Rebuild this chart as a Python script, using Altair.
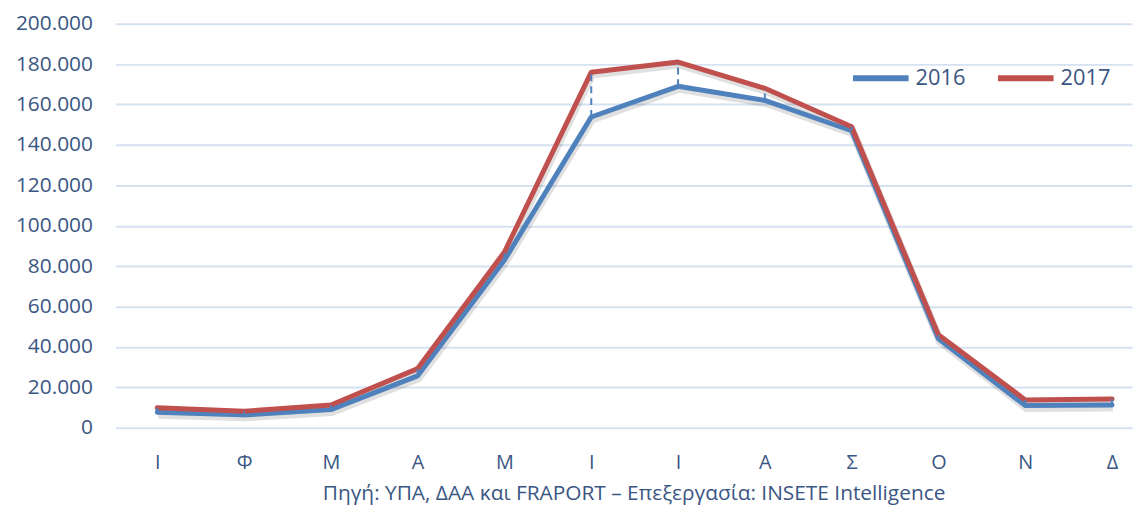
import json
import altair as alt
import pandas as pd

months = ["Ι", "Φ", "Μ", "Α", "Μ", "Ι", "Ι", "Α", "Σ", "Ο", "Ν", "Δ"]
y2016 = [7700, 6400, 9000, 25700, 83000, 153800, 169000, 162000, 147000, 44000, 11000, 11300]
y2017 = [9900, 8200, 11300, 29300, 87000, 176000, 181000, 168000, 149000, 46000, 13800, 14200]
years = ["2016", "2017"]
colors = ["#4F81BD", "#C0504D"]
caption = "Πηγή: ΥΠΑ, ΔΑΑ και FRAPORT – Επεξεργασία: INSETE Intelligence"
y_ticks = [0, 20000, 40000, 60000, 80000, 100000, 120000, 140000, 160000, 180000, 200000]
x_ticks = list(range(len(months)))

rows = []
for i in range(len(months)):
    rows.append({"idx": i, "year": years[0], "value": y2016[i]})
    rows.append({"idx": i, "year": years[1], "value": y2017[i]})
long_df = pd.DataFrame(rows)
wide_df = pd.DataFrame({"idx": x_ticks, "v16": y2016, "v17": y2017})

TXT = "#3A5683"
label_expr = json.dumps(months, ensure_ascii=False) + "[datum.value]"

x_enc = alt.X(
    "idx:Q",
    scale=alt.Scale(domain=[-0.484, 11.23], nice=False, zero=False),
    axis=alt.Axis(
        values=x_ticks, labelExpr=label_expr, labelAngle=0, labelFontSize=20, labelColor=TXT,
        labelPadding=25, ticks=False, domain=False, grid=False, labelFlush=False,
        title=caption, titleFontSize=21, titleFontWeight="normal", titleColor=TXT,
        titlePadding=10, titleX=522,
    ),
)
y_scale = alt.Scale(domain=[0, 200000], nice=False)
y_axis = alt.Axis(
    values=y_ticks, labelExpr="replace(format(datum.value, ','), ',', '.')",
    labelFontSize=21, labelColor=TXT, labelPadding=23, ticks=False, domain=False,
    grid=True, gridColor="#D6E1F1", gridWidth=2, title=None,
)

base = alt.Chart(long_df)

shadow = base.mark_line(color="#000000", opacity=0.12, strokeWidth=7, yOffset=3, xOffset=1,
                        strokeJoin="round").encode(
    x=x_enc, y=alt.Y("value:Q", scale=y_scale, axis=y_axis), detail="year:N"
)

lines = base.mark_line(strokeWidth=5, strokeJoin="round", strokeCap="round").encode(
    x=x_enc,
    y=alt.Y("value:Q", scale=y_scale, axis=y_axis),
    color=alt.Color(
        "year:N", scale=alt.Scale(domain=years, range=colors), title=None,
        legend=alt.Legend(
            orient="none", legendX=740, legendY=24, direction="horizontal",
            symbolType="stroke", symbolSize=3136, symbolStrokeWidth=6,
            labelFontSize=22, labelColor=TXT, labelOffset=4, columnPadding=20,
        ),
    ),
    order="year:N",
)

rules = alt.Chart(wide_df).mark_rule(color="#4F81BD", strokeWidth=2, strokeDash=[7, 5]).encode(
    x=x_enc, y=alt.Y("v16:Q", scale=y_scale, axis=y_axis), y2="v17:Q"
)

chart = alt.layer(shadow, lines, rules).properties(
    width=1024, height=407,
    autosize=alt.AutoSizeParams(type="none"),
    padding={"left": 108, "top": 14, "right": 3, "bottom": 80},
).configure(font="Open Sans").configure_view(stroke=None)

chart.save("out.html", embed_options={"renderer": "svg", "actions": False})
